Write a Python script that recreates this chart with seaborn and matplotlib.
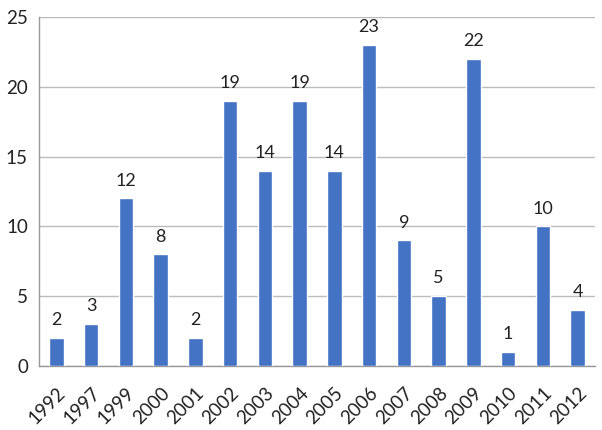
import matplotlib
matplotlib.use("Agg")
import matplotlib.pyplot as plt
import seaborn as sns
import pandas as pd
import numpy as np

years = ["1992", "1997", "1999", "2000", "2001", "2002", "2003", "2004",
         "2005", "2006", "2007", "2008", "2009", "2010", "2011", "2012"]
counts = [2, 3, 12, 8, 2, 19, 14, 19, 14, 23, 9, 5, 22, 1, 10, 4]
yticks = [0, 5, 10, 15, 20, 25]

sns.set_style("white")
plt.rcParams['font.family'] = ['Lato', 'DejaVu Sans']

df = pd.DataFrame({"year": years, "count": counts})

fig = plt.figure(figsize=(6.02, 4.30), dpi=100)
ax = fig.add_axes([39/602, 1 - 366/430, (595-39)/602, (366-17)/430])

sns.barplot(data=df, x="year", y="count", color="#4472C4", width=0.42,
            saturation=1, ax=ax, zorder=3)

ax.set_ylim(0, 25)
ax.set_xlim(-0.5, len(years) - 0.5)
ax.set_yticks(yticks)
ax.set_yticklabels([str(t) for t in yticks], fontsize=13.5, color="#222222")
ax.yaxis.grid(True, color="#b8bcbc", linewidth=1, zorder=0)
ax.tick_params(axis="y", length=0, pad=8)

ax.set_xticks(np.arange(len(years)))
ax.set_xticklabels(years, rotation=45, ha="right", rotation_mode="anchor",
                   fontsize=13.5, color="#222222")
ax.tick_params(axis="x", length=0, pad=13)
ax.set_xticks(np.arange(len(years) + 1) - 0.5, minor=True)
ax.tick_params(axis="x", which="minor", length=5, color="#999999", width=1)

for s in ["top", "right"]:
    ax.spines[s].set_visible(False)
for s in ["left", "bottom"]:
    ax.spines[s].set_color("#999999")
    ax.spines[s].set_linewidth(1)

for i, v in enumerate(counts):
    ax.text(i, v + 0.7, str(v), ha="center", va="bottom", fontsize=13,
            color="#222222")

ax.set_xlabel("")
ax.set_ylabel("")

fig.savefig("out.png", dpi=100)
